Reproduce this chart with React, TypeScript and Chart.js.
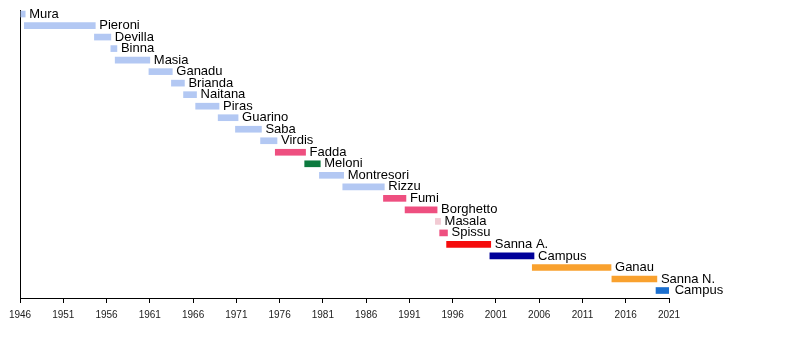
import React, { useEffect, useRef } from "react";
import { Chart, registerables } from "chart.js";

Chart.register(...registerables);

const names = [
  "Mura", "Pieroni", "Devilla", "Binna", "Masia", "Ganadu", "Brianda", "Naitana",
  "Piras", "Guarino", "Saba", "Virdis", "Fadda", "Meloni", "Montresori", "Rizzu",
  "Fumi", "Borghetto", "Masala", "Spissu", "Sanna A.", "Campus", "Ganau", "Sanna N.", "Campus",
];
const starts = [
  1946.1, 1946.5, 1954.6, 1956.5, 1957.0, 1960.9, 1963.5, 1964.9,
  1966.3, 1968.9, 1970.9, 1973.8, 1975.5, 1978.9, 1980.6, 1983.3,
  1988.0, 1990.5, 1994.0, 1994.5, 1995.3, 2000.3, 2005.2, 2014.4, 2019.5,
];
const ends = [
  1946.6, 1954.7, 1956.5, 1957.2, 1961.0, 1963.6, 1965.0, 1966.4,
  1969.0, 1971.2, 1973.9, 1975.7, 1979.0, 1980.7, 1983.4, 1988.1,
  1990.6, 1994.2, 1994.6, 1995.4, 2000.4, 2005.4, 2014.3, 2019.6, 2021.2,
];
const parties = [
  "DC", "DC", "DC", "DC", "DC", "DC", "DC", "DC",
  "DC", "DC", "DC", "DC", "PSI", "PCI", "DC", "DC",
  "PSI", "PSI", "PSDI", "PSI", "DS", "FI", "PD", "PD", "CDX",
];
const partyColors: Record<string, string> = {
  DC: "#b3c8f3",
  PSI: "#ee4f80",
  PCI: "#0c7a3e",
  PSDI: "#f2cad3",
  DS: "#f50c0c",
  FI: "#000099",
  PD: "#f9a12e",
  CDX: "#1b6fcf",
};
const tickYears = [1946, 1951, 1956, 1961, 1966, 1971, 1976, 1981, 1986, 1991, 1996, 2001, 2006, 2011, 2016, 2021];

export default function App() {
  const ref = useRef<HTMLCanvasElement>(null);
  useEffect(() => {
    document.body.style.margin = "0";
    const labelPlugin = {
      id: "barLabels",
      afterDatasetsDraw(chart: any) {
        const ctx = chart.ctx;
        const meta = chart.getDatasetMeta(0);
        ctx.save();
        ctx.font = "13px 'Liberation Sans', Arial, sans-serif";
        ctx.fillStyle = "#000";
        ctx.textBaseline = "middle";
        ctx.textAlign = "left";
        meta.data.forEach((bar: any, i: number) => {
          const xEnd = chart.scales.x.getPixelForValue(ends[i]);
          ctx.fillText(names[i], xEnd + 4, bar.y);
        });
        ctx.restore();
      },
    };
    const chart = new Chart(ref.current!, {
      type: "bar",
      data: {
        datasets: [
          {
            data: starts.map((s, i) => ({ y: i, x: [s, ends[i]] })) as any,
            backgroundColor: parties.map((p) => partyColors[p]),
            barThickness: 6,
            borderSkipped: false,
          },
        ],
      },
      options: {
        indexAxis: "y",
        animation: false,
        responsive: true,
        maintainAspectRatio: false,
        layout: { padding: { left: 20, right: 131, top: 10, bottom: 21 } },
        plugins: { legend: { display: false }, tooltip: { enabled: false } },
        scales: {
          x: {
            type: "linear",
            min: 1946,
            max: 2021,
            afterBuildTicks: (axis: any) => {
              axis.ticks = tickYears.map((v) => ({ value: v }));
            },
            grid: { drawOnChartArea: false, drawTicks: true, tickLength: 5, color: "#000" },
            border: { display: true, color: "#000", width: 1 },
            ticks: {
              callback: (v: any) => String(v),
              color: "#222",
              font: { size: 10, family: "'Liberation Sans', Arial, sans-serif" },
              maxRotation: 0,
              autoSkip: false,
              padding: 6,
            },
          },
          y: {
            type: "linear",
            reverse: true,
            offset: false,
            min: -0.35,
            max: 24.65,
            grid: { display: false, offset: false },
            border: { display: true, color: "#000", width: 1 },
            ticks: { display: false },
            afterFit: (axis: any) => {
              axis.width = 0;
            },
          },
        },
      },
      plugins: [labelPlugin],
    });
    return () => chart.destroy();
  }, []);
  return (
    <div style={{ width: 800, height: 348, position: "relative" }}>
      <canvas ref={ref} />
    </div>
  );
}
